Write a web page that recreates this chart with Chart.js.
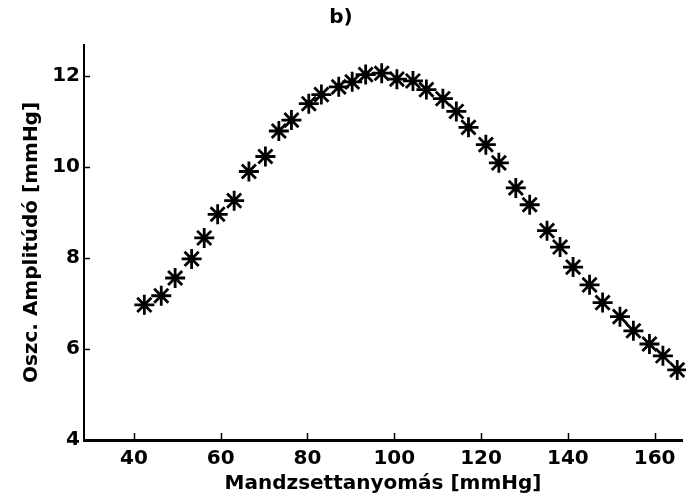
<!DOCTYPE html>
<html>
<head>
<meta charset="utf-8">
<script src="https://cdn.jsdelivr.net/npm/chart.js@4"></script>
<style>
  body { margin: 0; background: #fff; }
  canvas { display: block; }
</style>
</head>
<body>
<canvas id="chartCanvas" width="686" height="502"></canvas>
<script>
// mandzsettanyomás (x) és oszcillációs amplitúdó (y)
const pressure = [42.4, 46.3, 49.5, 53.3, 56.2, 59.3, 63.1, 66.5, 70.3, 73.4,
  76.3, 80.3, 83.2, 87.2, 90.3, 93.4, 97.1, 100.6, 104.3, 107.4,
  111.2, 114.3, 117.1, 121.1, 124.1, 128.0, 131.2, 135.2, 138.2, 141.2,
  145.0, 148.0, 152.0, 155.1, 158.8, 161.9, 165.2];
const amplitude = [6.97, 7.17, 7.56, 7.98, 8.44, 8.96, 9.26, 9.90, 10.23, 10.79,
  11.03, 11.39, 11.59, 11.76, 11.87, 12.03, 12.06, 11.93, 11.89, 11.70,
  11.50, 11.22, 10.87, 10.49, 10.09, 9.54, 9.17, 8.60, 8.24, 7.80,
  7.41, 7.02, 6.71, 6.40, 6.11, 5.85, 5.54];
const xTicks = [40, 60, 80, 100, 120, 140, 160];
const yTicks = [4, 6, 8, 10, 12];

const FONT = 'DejaVu Sans';

// befelé mutató osztásjelek (MATLAB stílus)
const inwardTicks = {
  id: 'inwardTicks',
  afterDraw(chart) {
    const ctx = chart.ctx;
    const area = chart.chartArea;
    const xs = chart.scales.x;
    const ys = chart.scales.y;
    ctx.save();
    ctx.strokeStyle = '#000';
    ctx.lineWidth = 1.5;
    ctx.beginPath();
    xs.ticks.forEach(t => {
      const px = Math.round(xs.getPixelForValue(t.value)) + 0.5;
      ctx.moveTo(px, area.bottom);
      ctx.lineTo(px, area.bottom - 7);
    });
    ys.ticks.forEach(t => {
      const py = Math.round(ys.getPixelForValue(t.value)) + 0.5;
      ctx.moveTo(area.left, py);
      ctx.lineTo(area.left + 6, py);
    });
    ctx.stroke();
    ctx.restore();
  }
};

const data = pressure.map((p, i) => ({ x: p, y: amplitude[i] }));

new Chart(document.getElementById('chartCanvas'), {
  type: 'scatter',
  data: {
    datasets: [{
      data: data,
      pointStyle: 'star',
      pointRadius: 10,
      pointBorderWidth: 2.8,
      borderColor: '#000',
      backgroundColor: '#000',
      showLine: false,
      clip: false
    }]
  },
  options: {
    responsive: false,
    animation: false,
    layout: { autoPadding: false, padding: { left: 0, right: 4, top: 0, bottom: 0 } },
    plugins: {
      legend: { display: false },
      tooltip: { enabled: false },
      title: {
        display: true,
        text: 'b)',
        color: '#000',
        font: { family: FONT, size: 20, weight: 'bold' },
        padding: { top: 6, bottom: 15 }
      }
    },
    scales: {
      x: {
        type: 'linear',
        min: 28.5,
        max: 166.3,
        afterBuildTicks: s => { s.ticks = xTicks.map(v => ({ value: v })); },
        afterFit: s => { s.height = 62; },
        grid: { display: false, drawTicks: false, tickLength: 0 },
        border: { display: true, color: '#000', width: 3 },
        ticks: {
          color: '#000',
          padding: 7,
          maxRotation: 0,
          font: { family: FONT, size: 20, weight: 'bold' }
        },
        title: {
          display: true,
          text: 'Mandzsettanyomás [mmHg]',
          color: '#000',
          font: { family: FONT, size: 20, weight: 'bold' },
          padding: { top: 0, bottom: 6 }
        }
      },
      y: {
        type: 'linear',
        min: 4,
        max: 12.68,
        afterBuildTicks: s => { s.ticks = yTicks.map(v => ({ value: v })); },
        afterFit: s => { s.width = 84; },
        grid: { display: false, drawTicks: false, tickLength: 0 },
        border: { display: true, color: '#000', width: 2 },
        ticks: {
          color: '#000',
          padding: 4,
          font: { family: FONT, size: 20, weight: 'bold' }
        },
        title: {
          display: true,
          text: 'Oszc. Amplitúdó [mmHg]',
          color: '#000',
          font: { family: FONT, size: 20, weight: 'bold' },
          padding: { top: 20, bottom: 0 }
        }
      }
    }
  },
  plugins: [inwardTicks]
});
</script>
</body>
</html>
